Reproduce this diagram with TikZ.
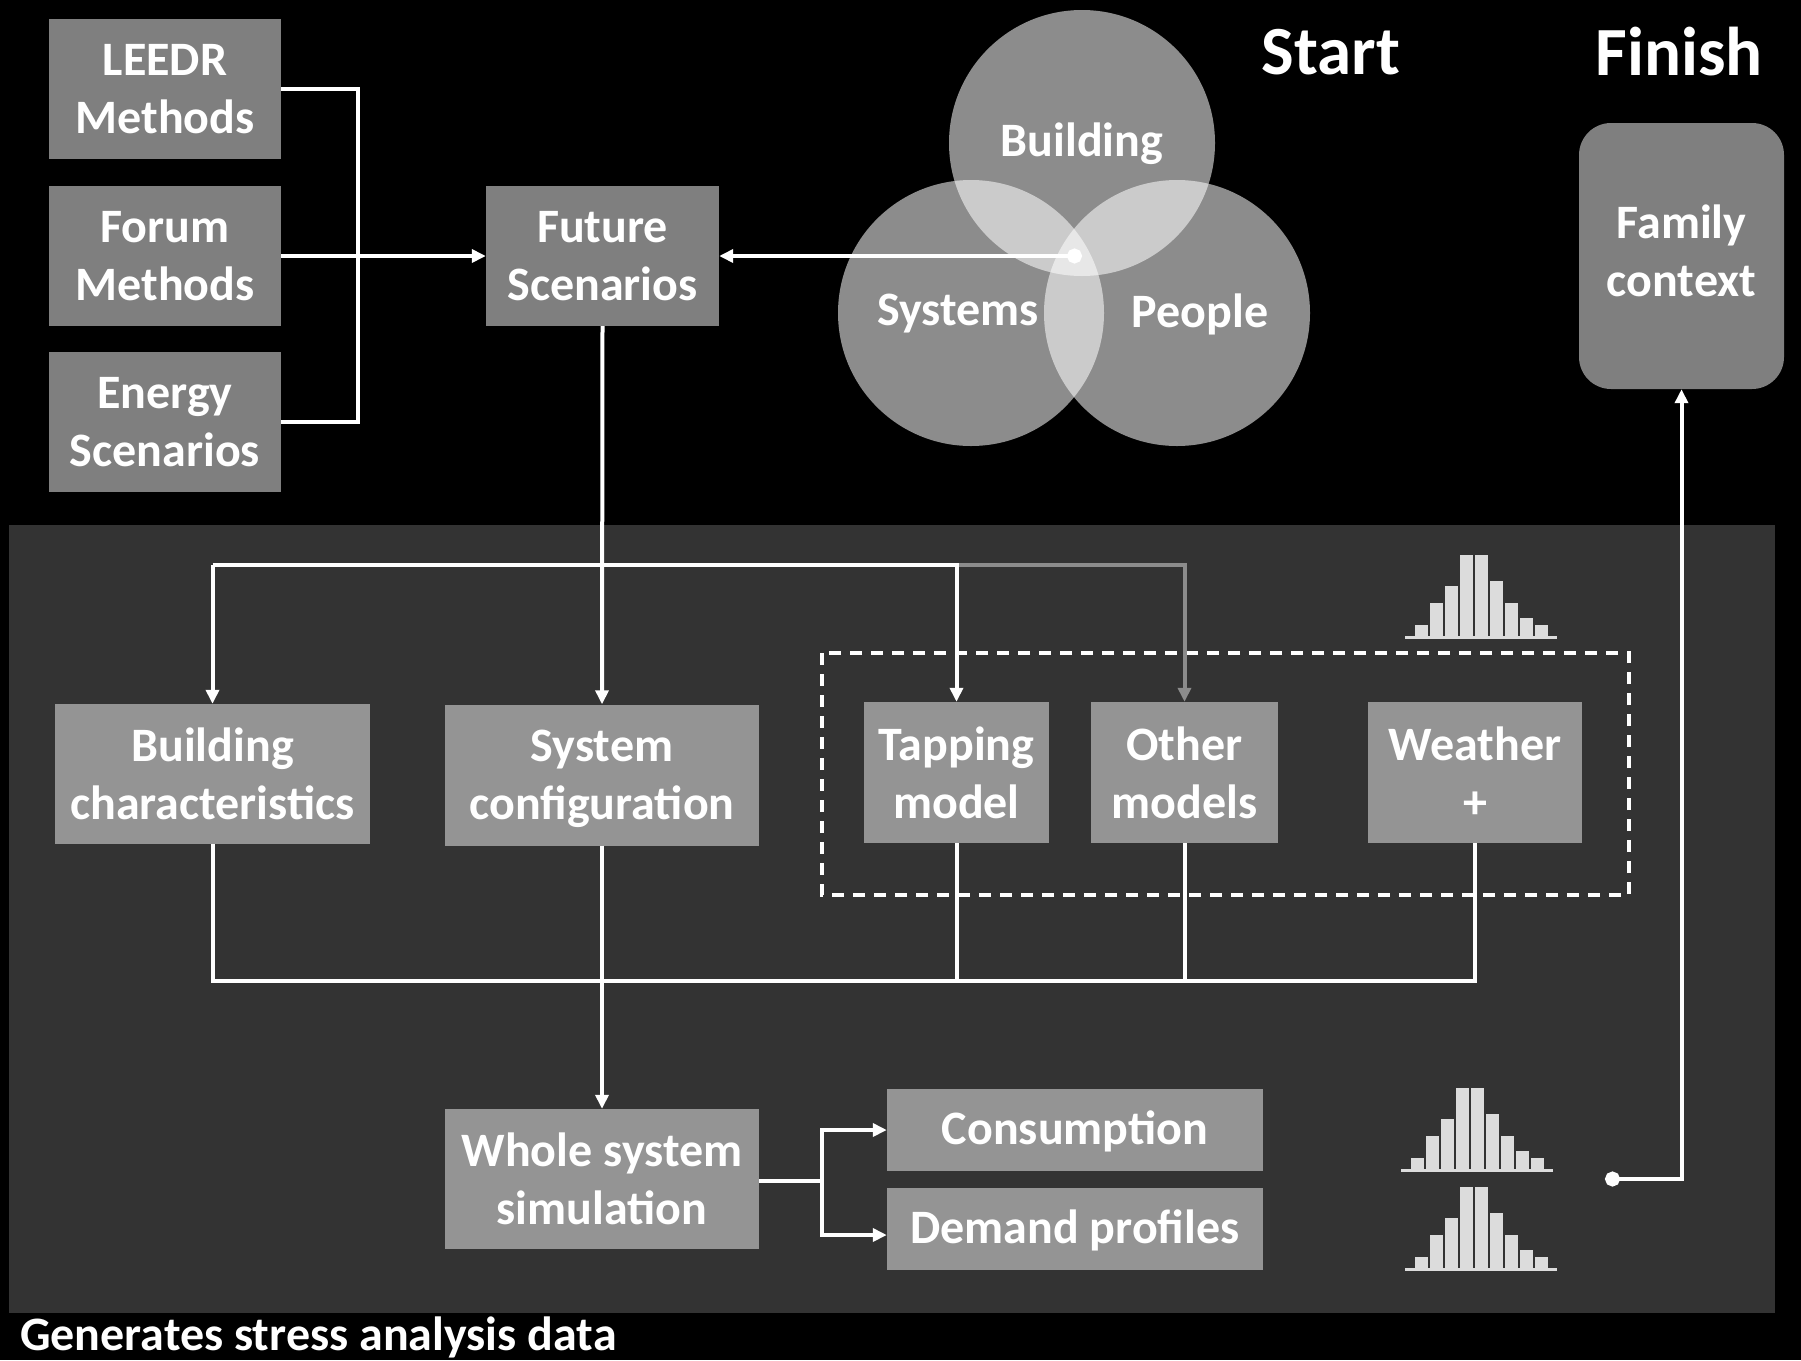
\documentclass[tikz,border=0pt]{standalone}
\usepackage{fontspec}
\setmainfont{Carlito}
\usetikzlibrary{arrows.meta}
\definecolor{boxtop}{RGB}{127,127,127}
\definecolor{boxlow}{RGB}{148,148,148}
\definecolor{panel}{RGB}{51,51,51}
\definecolor{histc}{RGB}{220,220,220}
\definecolor{grayarr}{RGB}{140,140,140}
\tikzset{
  box/.style={fill=boxtop, text=white, align=center, inner sep=0pt,
    font=\fontsize{48}{58}\selectfont\bfseries},
  lowbox/.style={box, fill=boxlow},
  wline/.style={draw=white, line width=4pt},
  warr/.style={wline, -{Triangle[length=14pt,width=13pt]}},
  garr/.style={draw=grayarr, line width=4pt, -{Triangle[length=14pt,width=13pt]}},
  dotstart/.style={{Circle[length=15pt]}-{Triangle[length=14pt,width=13pt]}},
  circ/.style={circle, fill=white, fill opacity=0.55, minimum size=266pt, inner sep=0pt},
  lbl/.style={text=white, font=\fontsize{48}{58}\selectfont\bfseries},
  title/.style={text=white, font=\fontsize{69}{82}\selectfont\bfseries},
}
\newcommand\histog[2]{%
  \foreach \h [count=\i from 0] in {11,33,50,81,81,55,33,18,11}{
    \fill[histc] (#1+9.5+15*\i,#2-1.5) rectangle ++(13.5,-\h);
  }
  \draw[histc, line width=3pt] (#1,#2) -- ++(152,0);
}
\begin{document}
\begin{tikzpicture}[x=1pt,y=-1pt]
\useasboundingbox (0,0) rectangle (1801,1360);
\fill[black] (0,0) rectangle (1801,1360);
\fill[panel] (9,525) rectangle (1775,1313);

% top-left boxes
\node[box, minimum width=232pt, minimum height=140pt] (leedr) at (165,89) {LEEDR\\Methods};
\node[box, minimum width=232pt, minimum height=140pt] (forum) at (165,256) {Forum\\Methods};
\node[box, minimum width=232pt, minimum height=140pt] (energy) at (165,422) {Energy\\Scenarios};
\node[box, minimum width=233pt, minimum height=140pt] (future) at (602.5,256) {Future\\Scenarios};

% venn
\node[circ] (cb) at (1082,143) {};
\node[circ] (cs) at (971,313) {};
\node[circ] (cp) at (1177,313) {};
\node[lbl] (lb) at (1082,144) {Building};
\node[lbl] (ls) at (958,314) {Systems};
\node[lbl] (lp) at (1200,314) {People};

\node[title] (start) at (1331,52) {Start};
\node[title] (finish) at (1679,52) {Finish};
\node[box, rounded corners=32pt, minimum width=205pt, minimum height=266pt] (family) at (1681.5,256) {};
\node[text=white, align=center, inner sep=0pt, font=\fontsize{48}{58}\selectfont\bfseries] (famtxt) at (1681.5,251) {Family\\context};

% lower boxes
\node[lowbox, minimum width=315pt, minimum height=140pt] (bldgc) at (212.5,774) {Building\\characteristics};
\node[lowbox, minimum width=314pt, minimum height=141pt] (syscfg) at (602,775) {};
\node[text=white, align=center, inner sep=0pt, font=\fontsize{48}{58}\selectfont\bfseries] (systxt) at (602,779) {System\\configuration};
\node[lowbox, minimum width=185pt, minimum height=141pt] (tapping) at (956.5,772.5) {Tapping\\model};
\node[lowbox, minimum width=187pt, minimum height=141pt] (other) at (1184.5,772.5) {Other\\models};
\node[lowbox, minimum width=214pt, minimum height=141pt] (weather) at (1475,772.5) {Weather\\+};
\node[lowbox, minimum width=314pt, minimum height=140pt] (whole) at (602,1179) {Whole system\\simulation};
\node[lowbox, minimum width=376pt, minimum height=82pt, text depth=4pt] (consumption) at (1075,1130) {Consumption};
\node[lowbox, minimum width=376pt, minimum height=82pt, text depth=4pt] (demand) at (1075,1229) {Demand profiles};

\draw[white, line width=4pt, dash pattern=on 12pt off 9pt] (822,653) rectangle (1629,895);

% histograms
\histog{1405}{637}
\histog{1401}{1170}
\histog{1405}{1269}

% connectors
\coordinate (jx) at (358,256);
\draw[wline] (leedr.east) -- (leedr.east -| jx) -- (energy.east -| jx) -- (energy.east);
\draw[warr] (forum.east) -- (future.west);
\coordinate (dot1) at (1082,256);
\draw[wline, dotstart] (dot1) -- (future.east);
\draw[warr] (future.south) -- (syscfg.north);

\coordinate (busT) at (0,565);
\draw[garr] ([xshift=2pt]tapping.north |- busT) -- (other.north |- busT) -- (other.north);
\draw[warr] (bldgc.north |- busT) -- (tapping.north |- busT) -- (tapping.north);
\draw[warr] (bldgc.north |- busT) -- (bldgc.north);

\coordinate (busB) at (0,981);
\draw[wline] (bldgc.south) -- (bldgc.south |- busB) -- (weather.south |- busB) -- (weather.south);
\draw[wline] (tapping.south) -- (tapping.south |- busB);
\draw[wline] (other.south) -- (other.south |- busB);
\draw[warr] (syscfg.south) -- (whole.north);

\coordinate (bj) at (822,1181);
\draw[wline] (whole.east |- bj) -- (bj);
\draw[warr] (bj) |- (consumption.west);
\draw[warr] (bj) |- ([yshift=-6pt]demand.west);

\coordinate (dot2) at (1605,1179);
\draw[wline, dotstart] (dot2) -| (family.south);

\node[text=white, anchor=base west, inner sep=0pt, font=\fontsize{48}{58}\selectfont\bfseries] (gen) at (20,1350) {Generates stress analysis data};
\end{tikzpicture}
\end{document}
